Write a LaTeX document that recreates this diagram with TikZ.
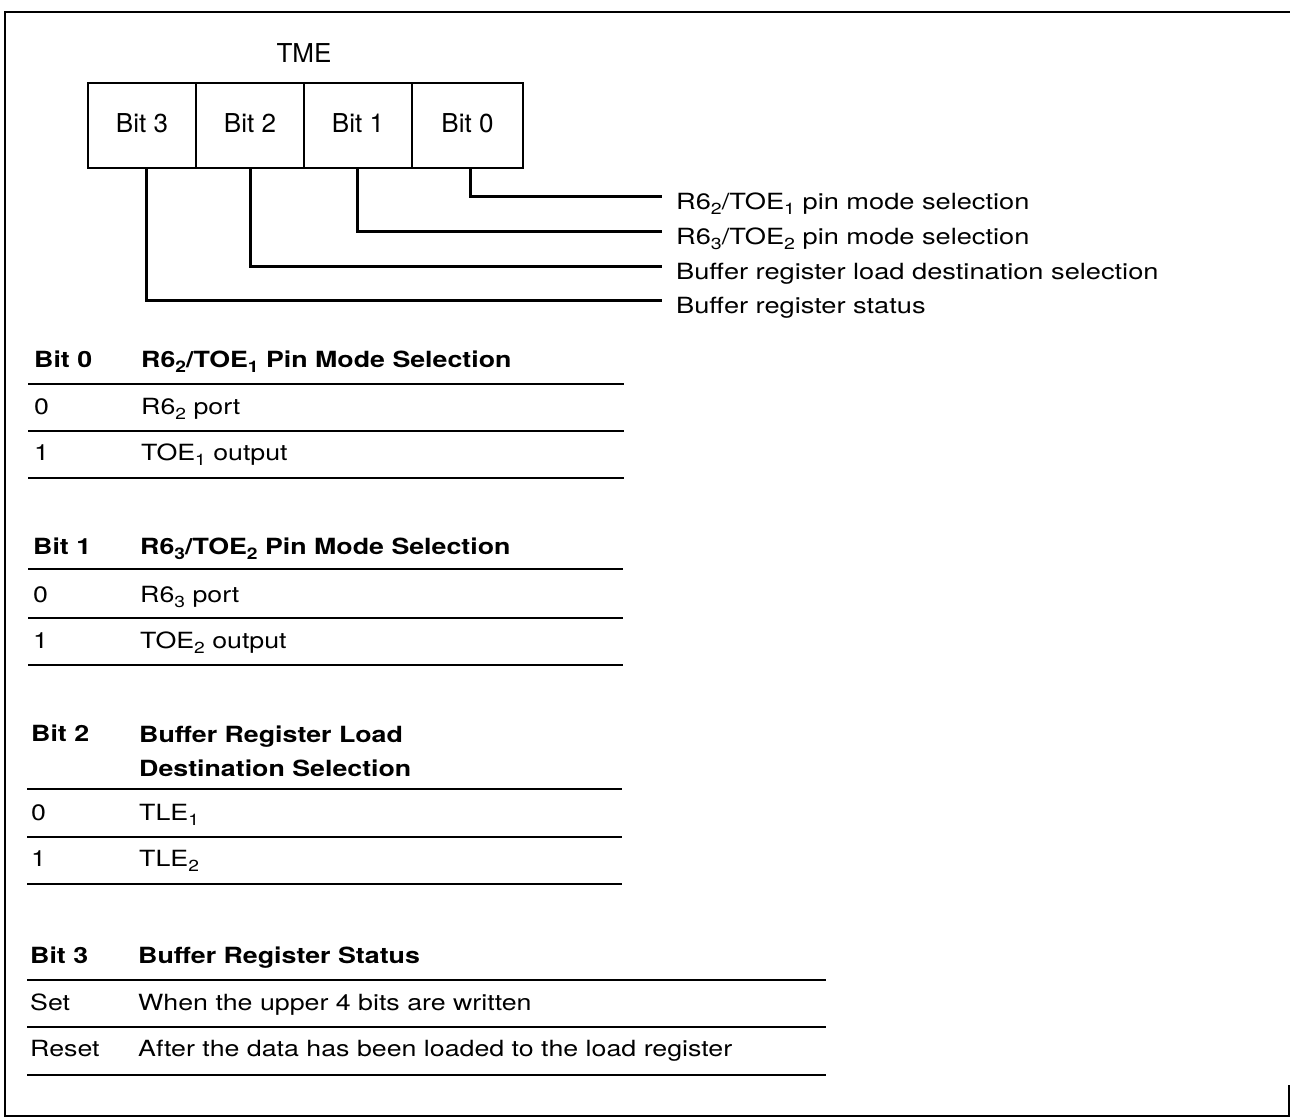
\documentclass[tikz,border=0pt]{standalone}
\usepackage{fontspec}
\setmainfont{TeX Gyre Heros}
\newfontfamily\wf[FakeStretch=1.22]{TeX Gyre Heros}
\newfontfamily\tf[FakeStretch=1.2]{TeX Gyre Heros}
\newcommand\sbs[1]{\raisebox{-5pt}{\fontsize{16}{16}\selectfont #1}}
\begin{document}
\begin{tikzpicture}[x=1pt,y=-1pt,
  cell/.style={draw, line width=2.6pt, rectangle, inner sep=0pt,
    minimum width=108pt, minimum height=85pt, text height=19pt, text depth=6pt,
    font=\fontsize{26}{30}\selectfont},
  boxtxt/.style={font=\fontsize{26}{30}\selectfont, inner sep=0pt, anchor=base},
  lbl/.style={font=\wf\fontsize{22.3}{26}\selectfont, inner sep=0pt, anchor=base west},
  row/.style={font=\tf\fontsize{22.3}{26}\selectfont, inner sep=0pt, anchor=base west},
  hdr/.style={font=\tf\bfseries\fontsize{22.3}{26}\selectfont, inner sep=0pt, anchor=base west},
  conn/.style={line width=3pt},
  thickrule/.style={line width=2.8pt},
  thinrule/.style={line width=1.8pt},
]
\useasboundingbox (0,0) rectangle (1290,1119);
% frame
\draw[line width=2pt] (1289,1085) -- (1289,1116) -- (5,1116) -- (5,12) -- (1290,12);

% register
\node[boxtxt] (tme) at (304,62) {TME};
\node[cell] (b3) at (142,125.5) {Bit 3};
\node[cell] (b2) at (250,125.5) {Bit 2};
\node[cell] (b1) at (358,125.5) {Bit 1};
\node[cell, minimum width=111pt] (b0) at (467.5,125.5) {Bit 0};

% labels
\node[lbl] (l0) at (676,209) {R6\sbs{2}/TOE\sbs{1} pin mode selection};
\node[lbl] (l1) at (676,244) {R6\sbs{3}/TOE\sbs{2} pin mode selection};
\node[lbl] (l2) at (676,279) {Buffer register load destination selection};
\node[lbl] (l3) at (676,313) {Buffer register status};
\coordinate (e0) at (662,196);
\coordinate (e1) at (662,231);
\coordinate (e2) at (662,266);
\coordinate (e3) at (662,300);
\draw[conn] ([xshift=2.5pt]b0.south) |- (e0);
\draw[conn] ([xshift=-1pt]b1.south) |- (e1);
\draw[conn] (b2.south) |- (e2);
\draw[conn] ([xshift=4pt]b3.south) |- (e3);

% table bit 0
\node[hdr] (t1a) at (34,367) {Bit 0};
\node[hdr] (t1b) at (141,367) {R6\sbs{2}/TOE\sbs{1} Pin Mode Selection};
\draw[thickrule] (28,384) -- (624,384);
\node[row] (t1c) at (34,414) {0};
\node[row] (t1d) at (141,414) {R6\sbs{2} port};
\draw[thinrule] (28,431) -- (624,431);
\node[row] (t1e) at (34,460) {1};
\node[row] (t1f) at (141,460) {TOE\sbs{1} output};
\draw[thickrule] (28,478) -- (624,478);

% table bit 1
\node[hdr] (t2a) at (33,554) {Bit 1};
\node[hdr] (t2b) at (140,554) {R6\sbs{3}/TOE\sbs{2} Pin Mode Selection};
\draw[thickrule] (28,569) -- (623,569);
\node[row] (t2c) at (33,602) {0};
\node[row] (t2d) at (140,602) {R6\sbs{3} port};
\draw[thinrule] (28,618) -- (623,618);
\node[row] (t2e) at (33,648) {1};
\node[row] (t2f) at (140,648) {TOE\sbs{2} output};
\draw[thickrule] (28,665) -- (623,665);

% table bit 2
\node[hdr] (t3a) at (31,741) {Bit 2};
\node[hdr] (t3b) at (139,742) {Buffer Register Load};
\node[hdr] (t3c) at (139,776) {Destination Selection};
\draw[thickrule] (27,789) -- (622,789);
\node[row] (t3d) at (31,820) {0};
\node[row] (t3e) at (139,820) {TLE\sbs{1}};
\draw[thinrule] (27,837) -- (622,837);
\node[row] (t3f) at (31,866) {1};
\node[row] (t3g) at (139,866) {TLE\sbs{2}};
\draw[thickrule] (27,884) -- (622,884);

% table bit 3
\node[hdr] (t4a) at (30,963) {Bit 3};
\node[hdr] (t4b) at (138,963) {Buffer Register Status};
\draw[thickrule] (27,980) -- (826,980);
\node[row] (t4c) at (30,1010) {Set};
\node[row] (t4d) at (138,1010) {When the upper 4 bits are written};
\draw[thinrule] (27,1027) -- (826,1027);
\node[row] (t4e) at (30,1056) {Reset};
\node[row] (t4f) at (138,1056) {After the data has been loaded to the load register};
\draw[thickrule] (27,1075) -- (826,1075);
\end{tikzpicture}
\end{document}
